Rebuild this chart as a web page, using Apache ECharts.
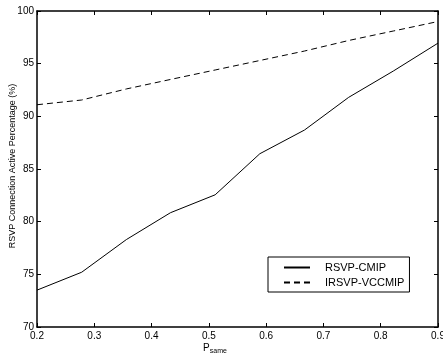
<!DOCTYPE html>
<html>
<head>
<meta charset="utf-8">
<script src="https://cdn.jsdelivr.net/npm/echarts@6/dist/echarts.min.js"></script>
<style>
  html, body { margin: 0; padding: 0; background: #fff; }
  #chart { width: 443px; height: 357px; }
</style>
</head>
<body>
<div id="chart"></div>
<script>
// P_same values (x)
const pSame = [0.2, 0.278, 0.356, 0.433, 0.511, 0.589, 0.667, 0.744, 0.822, 0.9];
const rsvpCmip = [73.5, 75.2, 78.3, 80.85, 82.55, 86.45, 88.7, 91.8, 94.3, 96.95];
const irsvpVccmip = [91.1, 91.55, 92.6, 93.5, 94.4, 95.3, 96.2, 97.2, 98.1, 99.0];
const seriesNames = ["RSVP-CMIP", "IRSVP-VCCMIP"];

const font = "Liberation Sans, Arial, Helvetica, sans-serif";
const frame = { lineStyle: { color: "#000", width: 1.5 } };
const ticks = { show: true, inside: true, length: 4, lineStyle: { color: "#000", width: 1 } };

const chart = echarts.init(document.getElementById("chart"));
chart.setOption({
  animation: false,
  backgroundColor: "#fff",
  grid: { left: 37, right: 5, top: 11, bottom: 30, outerBoundsMode: "none" },
  legend: {
    orient: "vertical",
    left: 268,
    top: 257,
    padding: [5, 5, 4, 15],
    itemGap: 4,
    itemWidth: 26,
    itemHeight: 10,
    borderColor: "#000",
    borderWidth: 1,
    backgroundColor: "#fff",
    itemStyle: { opacity: 0 },
    textStyle: { fontFamily: font, fontSize: 11, color: "#000", padding: [0, 0, 0, 10] },
    data: seriesNames
  },
  xAxis: [
    {
      type: "value",
      min: 0.2,
      max: 0.9,
      interval: 0.1,
      axisLine: frame,
      axisTick: ticks,
      splitLine: { show: false },
      axisLabel: {
        color: "#000",
        fontFamily: font,
        fontSize: 10,
        margin: 4,
        formatter: v => v.toFixed(1)
      },
      name: "{p|P}{s|same}",
      nameLocation: "middle",
      nameGap: 15,
      nameMoveOverlap: false,
      nameTextStyle: {
        padding: [0, 45, 0, 0],
        rich: {
          p: { fontFamily: font, fontSize: 10, color: "#000" },
          s: { fontFamily: font, fontSize: 7, color: "#000", padding: [6, 0, 0, 0] }
        }
      }
    },
    {
      type: "value",
      position: "top",
      min: 0.2,
      max: 0.9,
      interval: 0.1,
      axisLine: frame,
      axisTick: ticks,
      axisLabel: { show: false },
      splitLine: { show: false }
    }
  ],
  yAxis: [
    {
      type: "value",
      min: 70,
      max: 100,
      interval: 5,
      axisLine: frame,
      axisTick: ticks,
      splitLine: { show: false },
      axisLabel: { color: "#000", fontFamily: font, fontSize: 10, margin: 3 },
      name: "RSVP Connection Active Percentage (%)",
      nameLocation: "middle",
      nameGap: 20,
      nameMoveOverlap: false,
      nameTextStyle: { fontFamily: font, fontSize: 9, color: "#000", padding: [0, 0, 0, 6] }
    },
    {
      type: "value",
      position: "right",
      min: 70,
      max: 100,
      interval: 5,
      axisLine: frame,
      axisTick: ticks,
      axisLabel: { show: false },
      splitLine: { show: false }
    }
  ],
  series: [
    {
      name: seriesNames[0],
      type: "line",
      data: pSame.map((x, i) => [x, rsvpCmip[i]]),
      symbol: "none",
      itemStyle: { color: "#000" },
      lineStyle: { color: "#000", width: 1 }
    },
    {
      name: seriesNames[1],
      type: "line",
      data: pSame.map((x, i) => [x, irsvpVccmip[i]]),
      symbol: "none",
      itemStyle: { color: "#000" },
      lineStyle: { color: "#000", width: 1, type: [6, 4] }
    }
  ]
});
</script>
</body>
</html>
